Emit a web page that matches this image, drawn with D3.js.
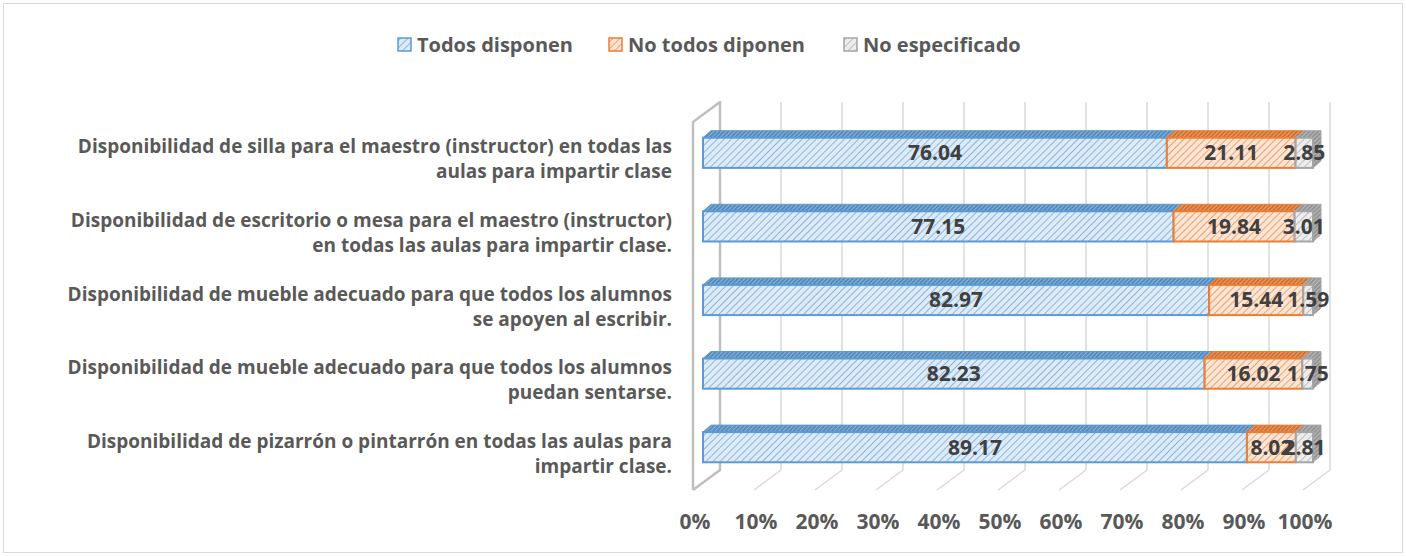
<!DOCTYPE html>
<html>
<head>
<meta charset="utf-8">
<script src="https://cdn.jsdelivr.net/npm/d3@7"></script>
<style>
  body { margin: 0; background: #fff; }
  text { font-family: "Open Sans", sans-serif; font-weight: bold; }
</style>
</head>
<body>
<script>
var w = 1406;
var h = 556;

// data
var categories = [
    ["Disponibilidad de silla para el maestro (instructor) en todas las", "aulas para impartir clase"],
    ["Disponibilidad de escritorio o mesa para el maestro (instructor)", "en todas las aulas para impartir clase."],
    ["Disponibilidad de mueble adecuado para que todos los alumnos", "se apoyen al escribir."],
    ["Disponibilidad de mueble adecuado para que todos los alumnos", "puedan sentarse."],
    ["Disponibilidad de pizarrón o pintarrón en todas las aulas para", "impartir clase."]
];
var seriesNames = ["Todos disponen", "No todos diponen", "No especificado"];
var todos = [76.04, 77.15, 82.97, 82.23, 89.17];
var noTodos = [21.11, 19.84, 15.44, 16.02, 8.02];
var noEsp = [2.85, 3.01, 1.59, 1.75, 2.81];
var ticks = [0, 10, 20, 30, 40, 50, 60, 70, 80, 90, 100];

var colors = ["#5b9bd5", "#ed7d31", "#a5a5a5"];
var lightFill = ["#deebf7", "#fbe5d6", "#ededed"];

var svg = d3.select("body")
            .append("svg")
            .attr("width", w)
            .attr("height", h);

// patterns
var defs = svg.append("defs");
colors.forEach(function(c, i) {
    var p = defs.append("pattern")
        .attr("id", "front" + i)
        .attr("patternUnits", "userSpaceOnUse")
        .attr("width", 5).attr("height", 5)
        .attr("patternTransform", "rotate(45)");
    p.append("rect").attr("width", 5).attr("height", 5).attr("fill", lightFill[i]);
    p.append("line").attr("x1", 0).attr("y1", 0).attr("x2", 0).attr("y2", 5)
        .attr("stroke", c).attr("stroke-width", 1.3);

    var t = defs.append("pattern")
        .attr("id", "top" + i)
        .attr("patternUnits", "userSpaceOnUse")
        .attr("width", 3).attr("height", 3)
        .attr("patternTransform", "rotate(45)");
    t.append("rect").attr("width", 3).attr("height", 3).attr("fill", d3.color(c).darker(0.3));
    t.append("line").attr("x1", 0).attr("y1", 0).attr("x2", 0).attr("y2", 3)
        .attr("stroke", d3.color(lightFill[i]).darker(0.2)).attr("stroke-width", 1);
});

// chart border
svg.append("rect")
    .attr("x", 3.5).attr("y", 3.5)
    .attr("width", w - 7).attr("height", h - 7)
    .attr("fill", "none").attr("stroke", "#d9d9d9");

// scales
var xFront = d3.scaleLinear().domain([0, 100]).range([693, 1303]);
var xBack = d3.scaleLinear().domain([0, 100]).range([720, 1330]);
var xBar = d3.scaleLinear().domain([0, 100]).range([703, 1313]);
var y = d3.scaleBand().domain(d3.range(categories.length))
    .range([116, 484]).paddingInner(0.59).paddingOuter(0.295);

var backTop = 102, backBottom = 470, frontTop = 122, frontBottom = 490;
var dx = 8, dy = -7;

// walls & gridlines
var grid = svg.append("g");
ticks.forEach(function(t) {
    if (t === 0) return;
    grid.append("line")
        .attr("x1", xBack(t)).attr("y1", backTop)
        .attr("x2", xBack(t)).attr("y2", backBottom)
        .attr("stroke", "#d9d9d9").attr("stroke-width", 1.5);
    grid.append("line")
        .attr("x1", xBack(t)).attr("y1", backBottom)
        .attr("x2", xFront(t)).attr("y2", frontBottom)
        .attr("stroke", "#d9d9d9").attr("stroke-width", 1.5);
});
grid.append("path")
    .attr("d", "M" + xFront(0) + "," + frontBottom + "L" + xFront(0) + "," + frontTop +
               "L" + xBack(0) + "," + backTop + "L" + xBack(0) + "," + backBottom +
               "L" + xFront(0) + "," + frontBottom)
    .attr("fill", "none").attr("stroke", "#bfbfbf").attr("stroke-width", 2.5)
    .attr("stroke-linejoin", "round");

// stacked bars
var stack = categories.map(function(c, i) {
    var vals = [todos[i], noTodos[i], noEsp[i]];
    var x0 = 0;
    return vals.map(function(v, s) {
        var seg = { i: i, s: s, v: v, x0: x0, x1: x0 + v };
        x0 += v;
        return seg;
    });
});

var bars = svg.append("g");
stack.forEach(function(segs) {
    var g = bars.append("g");
    segs.forEach(function(d) {
        var yt = y(d.i), hb = y.bandwidth();
        var a = xBar(d.x0), b = xBar(d.x1);
        // top face
        g.append("path")
            .attr("d", "M" + a + "," + yt + "L" + (a + dx) + "," + (yt + dy) +
                       "L" + (b + dx) + "," + (yt + dy) + "L" + b + "," + yt + "Z")
            .attr("fill", "url(#top" + d.s + ")")
            .attr("stroke", colors[d.s]).attr("stroke-width", 1);
        // right side for last segment
        if (d.s === segs.length - 1) {
            g.append("path")
                .attr("d", "M" + b + "," + yt + "L" + (b + dx) + "," + (yt + dy) +
                           "L" + (b + dx) + "," + (yt + dy + hb) + "L" + b + "," + (yt + hb) + "Z")
                .attr("fill", "url(#top" + d.s + ")")
                .attr("stroke", colors[d.s]).attr("stroke-width", 1);
        }
        // front face
        g.append("rect")
            .attr("x", a).attr("y", yt)
            .attr("width", b - a).attr("height", hb)
            .attr("fill", "url(#front" + d.s + ")")
            .attr("stroke", colors[d.s]).attr("stroke-width", 2);
    });
});

// data labels
stack.forEach(function(segs) {
    segs.forEach(function(d) {
        svg.append("text")
            .attr("x", (xBar(d.x0) + xBar(d.x1)) / 2)
            .attr("y", y(d.i) + y.bandwidth() / 2)
            .attr("dy", "0.35em")
            .attr("text-anchor", "middle")
            .attr("font-size", "21px")
            .attr("fill", "#404040")
            .text(d.v.toFixed(2));
    });
});

// category labels
categories.forEach(function(lines, i) {
    var cy = y(i) + y.bandwidth() / 2 + 6.5;
    var t = svg.append("text")
        .attr("text-anchor", "end")
        .attr("font-size", "19px")
        .attr("fill", "#595959");
    lines.forEach(function(l, k) {
        t.append("tspan")
            .attr("x", 672)
            .attr("y", cy + (k - 0.5) * 25)
            .attr("dy", "0.35em")
            .text(l);
    });
});

// x axis labels
svg.selectAll(".tick-label")
    .data(ticks)
    .enter().append("text")
        .attr("class", "tick-label")
        .attr("x", function(d) { return xFront(d) + 2; })
        .attr("y", 522)
        .attr("dy", "0.35em")
        .attr("text-anchor", "middle")
        .attr("font-size", "21px")
        .attr("fill", "#595959")
        .text(function(d) { return d + "%"; });

// legend
var legendX = [398, 609, 844];
var legend = svg.append("g");
seriesNames.forEach(function(n, i) {
    legend.append("rect")
        .attr("x", legendX[i]).attr("y", 38)
        .attr("width", 13).attr("height", 13)
        .attr("fill", "url(#front" + i + ")")
        .attr("stroke", colors[i]).attr("stroke-width", 1.5);
    legend.append("text")
        .attr("x", legendX[i] + 19).attr("y", 44.5)
        .attr("dy", "0.35em")
        .attr("font-size", "20px")
        .attr("fill", "#595959")
        .text(n);
});
</script>
</body>
</html>
